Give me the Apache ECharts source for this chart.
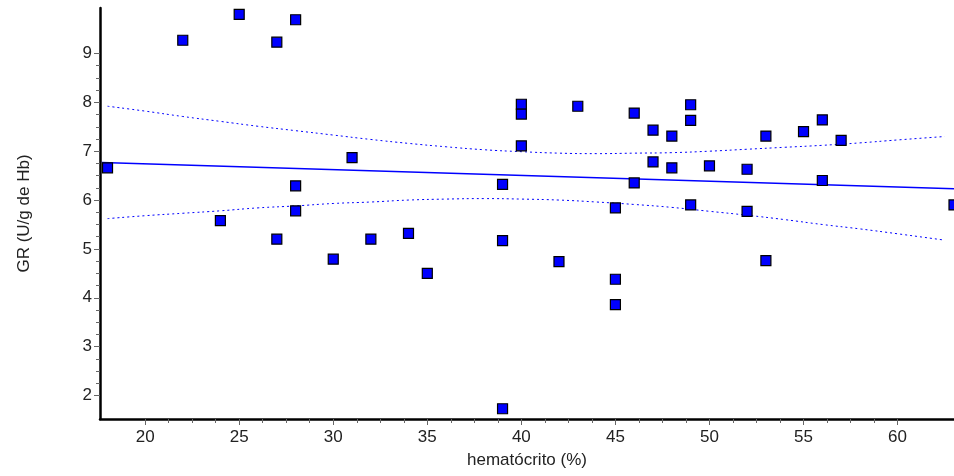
<!DOCTYPE html>
<html>
<head>
<meta charset="utf-8">
<script src="https://cdn.jsdelivr.net/npm/echarts@6/dist/echarts.min.js"></script>
<style>
  html, body { margin: 0; padding: 0; background: #fff; }
  #chart { width: 954px; height: 476px; }
</style>
</head>
<body>
<div id="chart"></div>
<script>
// hematocrito (%) / GR (U/g de Hb)
var hematocrito = [18, 22, 25, 27, 28, 24, 28, 28, 27, 30, 31, 32, 34, 35, 39, 39, 39, 40, 40, 40, 42, 43,
  45, 45, 45, 46, 46, 47, 47, 48, 48, 49, 49, 49, 50, 52, 52, 53, 53, 55, 56, 56, 57, 63]
var gr = [6.66, 9.27, 9.80, 9.23, 9.69, 5.58, 6.29, 5.78, 5.20, 4.79, 6.87, 5.20, 5.32, 4.50, 6.32, 5.17, 1.73, 7.96, 7.76, 7.11, 4.74, 7.92,
  5.84, 4.38, 3.86, 7.78, 6.35, 7.43, 6.78, 7.31, 6.66, 7.95, 7.63, 5.90, 6.70, 6.63, 5.77, 7.31, 4.76, 7.40, 7.64, 6.40, 7.22, 5.90]

// recta de regresion (extremos)
var regX = [17.7, 63]
var regY = [6.77, 6.23]

// bandas de confianza
var bandX = [18, 20, 22, 24, 26, 28, 30, 32, 34, 36, 38, 40, 42, 44, 46, 48, 50, 52, 54, 56, 58, 60, 62.5]
var bandUp = [7.92, 7.82, 7.71, 7.61, 7.51, 7.42, 7.33, 7.24, 7.16, 7.09, 7.03, 6.99, 6.96, 6.95, 6.96, 6.97, 7.00, 7.04, 7.08, 7.12, 7.17, 7.23, 7.30]
var bandLo = [5.62, 5.68, 5.73, 5.78, 5.84, 5.88, 5.93, 5.96, 6.00, 6.02, 6.03, 6.02, 6.00, 5.96, 5.91, 5.85, 5.77, 5.69, 5.60, 5.50, 5.41, 5.31, 5.18]

var xTicks = [20, 25, 30, 35, 40, 45, 50, 55, 60]
var yTicks = [2, 3, 4, 5, 6, 7, 8, 9]

// marcas menores solo entre las mayores
function minorOf(ticks, steps) {
  var out = []
  for (var i = 0; i < ticks.length - 1; i++) {
    var step = (ticks[i + 1] - ticks[i]) / steps
    for (var k = 1; k < steps; k++) out.push(ticks[i] + k * step)
  }
  return out
}

function zip(a, b) {
  return a.map(function (v, i) { return [v, b[i]] })
}

var font = "'Liberation Sans', Arial, sans-serif"
var xMin = 17.6, xMax = 63, yMin = 1.52, yMax = 9.93

var chart = echarts.init(document.getElementById('chart'))

var option = {
  animation: false,
  grid: { left: 100, right: 0, top: 8, bottom: 57 },
  xAxis: [{
    type: 'value',
    min: xMin,
    max: xMax,
    name: 'hematócrito (%)',
    nameLocation: 'middle',
    nameGap: 33,
    nameTextStyle: { fontFamily: font, fontSize: 17, color: '#222' },
    axisLine: { show: true, lineStyle: { color: '#000', width: 2.5 } },
    axisTick: { show: true, length: 6, customValues: xTicks, lineStyle: { color: '#666' } },
    axisLabel: { customValues: xTicks, margin: 10, fontFamily: font, fontSize: 17, color: '#222' },
    splitLine: { show: false }
  }, {
    type: 'value',
    position: 'bottom',
    min: xMin,
    max: xMax,
    axisLine: { show: false },
    axisTick: { show: true, length: 4, customValues: minorOf(xTicks, 4), lineStyle: { color: '#666' } },
    axisLabel: { show: false },
    splitLine: { show: false }
  }],
  yAxis: [{
    type: 'value',
    min: yMin,
    max: yMax,
    name: 'GR (U/g de Hb)',
    nameLocation: 'middle',
    nameGap: 67,
    nameTextStyle: { fontFamily: font, fontSize: 17, color: '#222' },
    axisLine: { show: true, lineStyle: { color: '#000', width: 2.5 } },
    axisTick: { show: true, length: 6, customValues: yTicks, lineStyle: { color: '#666' } },
    axisLabel: { customValues: yTicks, margin: 8, fontFamily: font, fontSize: 17, color: '#222' },
    splitLine: { show: false }
  }, {
    type: 'value',
    position: 'left',
    min: yMin,
    max: yMax,
    axisLine: { show: false },
    axisTick: { show: true, length: 4, customValues: minorOf(yTicks, 4), lineStyle: { color: '#666' } },
    axisLabel: { show: false },
    splitLine: { show: false }
  }],
  series: [{
    type: 'line',
    data: zip(bandX, bandUp),
    smooth: true,
    symbol: 'none',
    lineStyle: { color: '#0000ff', width: 1, type: [2, 3] },
    z: 2
  }, {
    type: 'line',
    data: zip(bandX, bandLo),
    smooth: true,
    symbol: 'none',
    lineStyle: { color: '#0000ff', width: 1, type: [2, 3] },
    z: 2
  }, {
    type: 'line',
    data: zip(regX, regY),
    symbol: 'none',
    lineStyle: { color: '#0000ff', width: 1.5 },
    z: 3
  }, {
    type: 'scatter',
    data: zip(hematocrito, gr),
    symbol: 'rect',
    symbolSize: 10,
    itemStyle: {
      color: '#0000ff',
      opacity: 1,
      borderColor: '#000',
      borderWidth: 1.2
    },
    emphasis: { disabled: true },
    z: 5
  }]
}

chart.setOption(option)
</script>
</body>
</html>
